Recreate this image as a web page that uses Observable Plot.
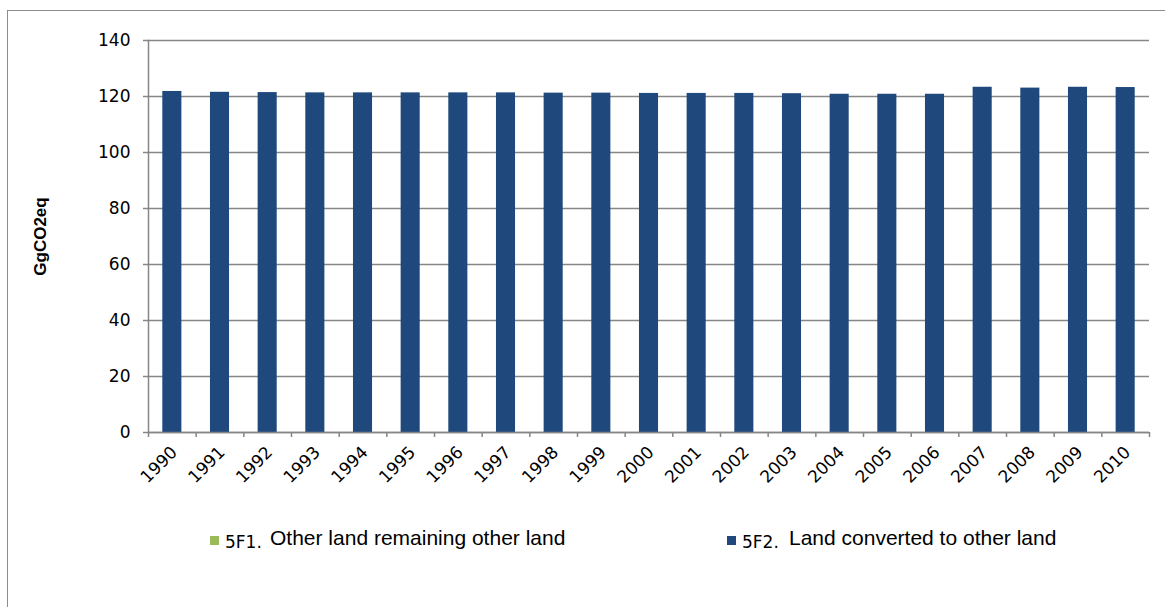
<!DOCTYPE html>
<html>
<head>
<meta charset="utf-8">
<script src="https://cdn.jsdelivr.net/npm/d3@7"></script>
<script src="https://cdn.jsdelivr.net/npm/@observablehq/plot@0.6"></script>
<style>
  html, body { margin: 0; padding: 0; background: #fff; }
  #wrap { position: relative; width: 1165px; height: 607px; overflow: hidden; background: #fff; }
  #border { position: absolute; left: 7px; top: 10px; width: 1200px; height: 700px; border: 1.5px solid #8c8c8c; box-sizing: border-box; }
  #chart { position: absolute; left: 0; top: 0; }
  .lg { position: absolute; line-height: 1; white-space: nowrap; color: #000; }
  .sw { position: absolute; width: 9px; height: 9px; }
  .code { font-family: "DejaVu Sans", sans-serif; font-size: 17px; }
  .name { font-family: "Liberation Sans", Arial, sans-serif; font-size: 21px; }
  .ytitle text { font-size: 17px !important; font-family: "Liberation Sans", Arial, sans-serif; font-weight: bold; }
</style>
</head>
<body>
<div id="wrap">
  <div id="border"></div>
  <div id="chart"></div>
  <div id="legend"></div>
</div>
<script>
const years = ["1990","1991","1992","1993","1994","1995","1996","1997","1998","1999","2000","2001","2002","2003","2004","2005","2006","2007","2008","2009","2010"];
const series5F1 = [0,0,0,0,0,0,0,0,0,0,0,0,0,0,0,0,0,0,0,0,0];
const series5F2 = [121.8,121.5,121.4,121.3,121.3,121.3,121.3,121.3,121.2,121.2,121.1,121.1,121.1,121.0,120.8,120.8,120.8,123.3,123.0,123.3,123.2];
const seriesCodes = ["5F1.", "5F2."];
const seriesNames = ["Other land remaining other land", "Land converted to other land"];
const seriesColors = ["#9BBB59", "#1F497D"];
const yTicks = [0, 20, 40, 60, 80, 100, 120, 140];
const yTitle = "GgCO2eq";

const data = [];
years.forEach((y, i) => {
  data.push({year: y, series: seriesCodes[0], value: series5F1[i]});
  data.push({year: y, series: seriesCodes[1], value: series5F2[i]});
});

const W = 1165, H = 500, mL = 148, mR = 16, mT = 40, mB = 68;
const step = (W - mL - mR) / years.length;
const gray = "#868686";

const plot = Plot.plot({
  width: W, height: H,
  marginLeft: mL, marginRight: mR, marginTop: mT, marginBottom: mB,
  style: {fontFamily: "DejaVu Sans, sans-serif", fontSize: "17px", color: "#000", background: "transparent"},
  x: {domain: years, paddingInner: 0.6, paddingOuter: 0.3, round: false, label: null},
  y: {domain: [0, 140], label: null},
  color: {domain: seriesCodes, range: seriesColors},
  marks: [
    Plot.gridY(yTicks, {stroke: gray, strokeOpacity: 1, strokeWidth: 1.5}),
    Plot.barY(data, {x: "year", y: "value", fill: "series"}),
    Plot.frame({anchor: "left", stroke: gray, strokeWidth: 1.5}),
    Plot.ruleY([0], {stroke: gray, strokeWidth: 1.5}),
    Plot.axisY({ticks: yTicks, tickSize: 5, tickPadding: 13, stroke: gray, strokeWidth: 1.5, label: null}),
    Plot.text([yTitle], {frameAnchor: "left", dx: -108, rotate: -90, text: d => d, textAnchor: "middle",
      fontFamily: "Liberation Sans, Arial, sans-serif", fontWeight: "bold", fontSize: "17px", fill: "#000", className: "ytitle"}),
    Plot.axisX({tickSize: 5, dx: -step / 2, tickFormat: () => "", stroke: gray, strokeWidth: 1.5, label: null}),
    Plot.axisX({ticks: [years[years.length - 1]], tickSize: 5, dx: step / 2, tickFormat: () => "", stroke: gray, strokeWidth: 1.5, label: null}),
    Plot.axisX({tickSize: 0, tickPadding: 17, tickRotate: -45, dx: 2, label: null})
  ]
});
document.getElementById("chart").appendChild(plot);

// Legend
const legend = document.getElementById("legend");
const lgPos = [
  {sw: [210, 536], code: [225, 534], name: [270, 527]},
  {sw: [727, 536], code: [742, 534], name: [789, 527]}
];
seriesCodes.forEach((c, i) => {
  const p = lgPos[i];
  const sw = document.createElement("div");
  sw.className = "sw";
  sw.style.left = p.sw[0] + "px"; sw.style.top = p.sw[1] + "px";
  sw.style.background = seriesColors[i];
  legend.appendChild(sw);
  const code = document.createElement("span");
  code.className = "lg code";
  code.style.left = p.code[0] + "px"; code.style.top = p.code[1] + "px";
  code.textContent = c;
  legend.appendChild(code);
  const name = document.createElement("span");
  name.className = "lg name";
  name.style.left = p.name[0] + "px"; name.style.top = p.name[1] + "px";
  name.textContent = seriesNames[i];
  legend.appendChild(name);
});
</script>
</body>
</html>
